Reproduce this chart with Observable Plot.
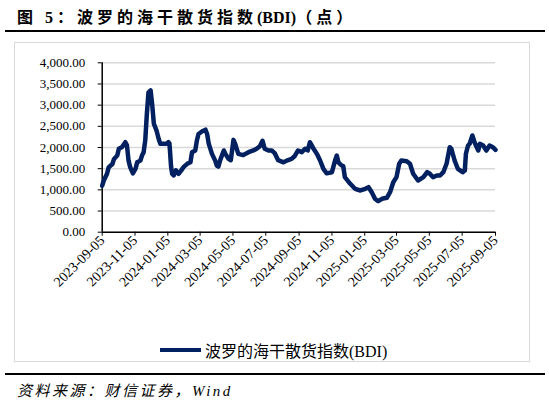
<!DOCTYPE html>
<html><head><meta charset="utf-8">
<script src="https://cdn.jsdelivr.net/npm/d3@7"></script>
<script src="https://cdn.jsdelivr.net/npm/@observablehq/plot@0.6"></script>
<style>
body{margin:0;background:#fff;}
#wrap{position:relative;width:549px;height:405px;overflow:hidden;background:#fff;}
#title{position:absolute;left:17px;top:4px;font-weight:bold;font-size:16px;font-family:"Liberation Serif","Noto Sans CJK SC",serif;letter-spacing:4px;white-space:nowrap;color:#000;}
#title .t{letter-spacing:0;}
.hr{position:absolute;left:5px;width:540px;height:2px;background:#000;}
#frame{position:absolute;left:14px;top:42px;width:516px;height:320px;border:1px solid #d9d9d9;box-sizing:border-box;}
#chart{position:absolute;left:0;top:0;}
#legend{position:absolute;left:160px;top:338px;display:flex;align-items:center;white-space:nowrap;font-size:16px;font-family:"Liberation Serif","Noto Sans CJK SC",serif;color:#000;}
#legend .sw{width:41px;height:4px;background:#002060;margin-right:4px;}
#source{position:absolute;left:17px;top:379px;font-size:15px;font-style:italic;font-family:"Liberation Serif","Noto Sans CJK SC",serif;letter-spacing:2.5px;white-space:nowrap;color:#000;}
</style>
</head><body>
<div id="wrap">
  <div id="title">图 5：波罗的海干散货指数<span class="t">(BDI)</span>（点）</div>
  <div class="hr" style="top:30px"></div>
  <div id="frame"></div>
  <div id="chart"></div>
  <div id="legend"><span class="sw"></span><span>波罗的海干散货指数(BDI)</span></div>
  <div class="hr" style="top:373px"></div>
  <div id="source">资料来源：财信证券，Wind</div>
</div>
<script>
const dates = [
"2023-09-05","2023-09-08","2023-09-14","2023-09-17","2023-09-24","2023-09-27","2023-10-03","2023-10-06","2023-10-12","2023-10-18",
"2023-10-21","2023-10-24","2023-10-27","2023-11-01","2023-11-06","2023-11-09","2023-11-15","2023-11-18","2023-11-21","2023-11-24",
"2023-11-27","2023-11-30","2023-12-04","2023-12-07","2023-12-10","2023-12-15","2023-12-19","2023-12-22","2024-01-03","2024-01-06",
"2024-01-08","2024-01-11","2024-01-13","2024-01-16","2024-01-20","2024-01-25","2024-01-30","2024-02-03","2024-02-10","2024-02-16",
"2024-02-19","2024-02-25","2024-02-28","2024-03-02","2024-03-09","2024-03-15","2024-03-18","2024-03-21","2024-03-27","2024-04-02",
"2024-04-05","2024-04-08","2024-04-11","2024-04-18","2024-04-21","2024-04-27","2024-05-01","2024-05-06","2024-05-09","2024-05-15",
"2024-05-24","2024-06-03","2024-06-12","2024-06-18","2024-06-24","2024-06-29","2024-07-03","2024-07-10","2024-07-16","2024-07-22",
"2024-07-28","2024-08-07","2024-08-13","2024-08-22","2024-08-28","2024-09-03","2024-09-10","2024-09-16","2024-09-21","2024-09-25",
"2024-10-01","2024-10-08","2024-10-14","2024-10-20","2024-10-26","2024-11-05","2024-11-11","2024-11-14","2024-11-17","2024-11-23",
"2024-11-26","2024-11-29","2024-12-09","2024-12-18","2024-12-28","2025-01-06","2025-01-12","2025-01-18","2025-01-24","2025-01-30",
"2025-02-06","2025-02-15","2025-02-21","2025-02-27","2025-03-05","2025-03-10","2025-03-14","2025-03-24","2025-03-30","2025-04-05",
"2025-04-14","2025-04-24","2025-05-01","2025-05-06","2025-05-12","2025-05-19","2025-05-25","2025-05-31","2025-06-06","2025-06-12",
"2025-06-15","2025-06-21","2025-06-27","2025-07-06","2025-07-10","2025-07-12","2025-07-16","2025-07-19","2025-07-24","2025-07-28",
"2025-08-04","2025-08-07","2025-08-13","2025-08-19","2025-08-25","2025-08-31","2025-09-05"
];
const bdi = [
1100,1220,1380,1530,1610,1730,1810,1970,2010,2125,
2050,1690,1535,1390,1500,1650,1690,1810,1890,2165,
2795,3300,3346,3000,2560,2400,2200,2090,2090,2125,
2100,1550,1380,1340,1460,1380,1460,1535,1615,1650,
1890,1930,2165,2320,2385,2420,2320,2090,1850,1690,
1575,1550,1690,1930,1850,1730,1700,2180,2090,1850,
1820,1890,1930,1970,2030,2160,1970,1930,1930,1860,
1700,1650,1690,1730,1800,1930,1890,1970,1930,2125,
1990,1850,1693,1500,1390,1417,1700,1811,1650,1575,
1560,1300,1143,1025,985,1025,1063,944,789,732,
789,812,944,1180,1300,1615,1693,1676,1615,1379,
1221,1299,1417,1379,1299,1339,1339,1417,1615,2007,
1970,1693,1497,1417,1457,1851,2047,2087,2283,2125,
1929,2087,2047,1929,2047,2007,1945
];
const xTickLabels = ["2023-09-05","2023-11-05","2024-01-05","2024-03-05","2024-05-05","2024-07-05","2024-09-05","2024-11-05","2025-01-05","2025-03-05","2025-05-05","2025-07-05","2025-09-05"];
const yTickValues = [0,500,1000,1500,2000,2500,3000,3500,4000];

const data = dates.map((d, i) => ({date: new Date(d), value: bdi[i]}));
const xTicks = xTickLabels.map(d => new Date(d));
const H = 370;
const chart = Plot.plot({
  width: 549,
  height: H,
  marginTop: 62.3,
  marginBottom: H - 231.7,
  marginLeft: 101.7,
  marginRight: 54,
  x: {type: "utc", domain: [xTicks[0], xTicks[xTicks.length - 1]], label: null},
  y: {domain: [0, 4000], label: null},
  style: {fontFamily: "'Liberation Serif','Times New Roman',serif", fontSize: "13px", color: "#000", background: "transparent", overflow: "visible"},
  marks: [
    Plot.gridY(yTickValues, {stroke: "#d9d9d9", strokeOpacity: 1, strokeWidth: 1.5}),
    Plot.axisY(yTickValues, {tickFormat: d3.format(",.2f"), tickSize: 4, tickPadding: 13, fontSize: 13, stroke: "#000", label: null}),
    Plot.axisX(xTicks, {tickFormat: d3.utcFormat("%Y-%m-%d"), tickRotate: -45, tickSize: 4, tickPadding: 2, fontSize: 14, stroke: "#000", label: null}),
    Plot.ruleX([xTicks[0]], {stroke: "#000", strokeWidth: 1.5}),
    Plot.ruleY([0], {stroke: "#000", strokeWidth: 1.5}),
    Plot.line(data, {x: "date", y: "value", stroke: "#002060", strokeWidth: 4.5, strokeLinejoin: "round", strokeLinecap: "round"})
  ]
});
document.getElementById("chart").appendChild(chart);
</script>
</body></html>
